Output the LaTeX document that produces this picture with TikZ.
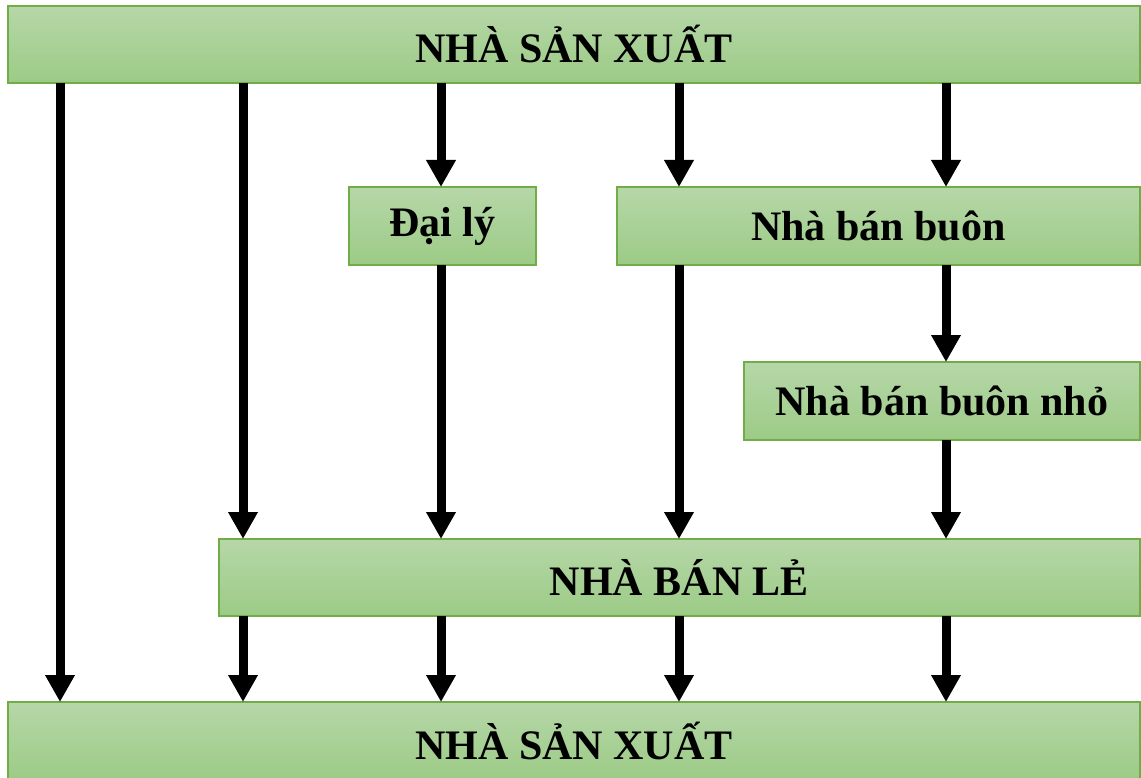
\documentclass[tikz,border=0pt]{standalone}
\usepackage{fontspec}
\setmainfont{Liberation Serif}
\usetikzlibrary{arrows.meta}
\definecolor{boxtop}{HTML}{B6D7A8}
\definecolor{boxbot}{HTML}{9CCB86}
\definecolor{boxline}{HTML}{70AD47}
\begin{document}
\begin{tikzpicture}[x=1pt,y=-1pt,
  box/.style={rectangle, draw=boxline, line width=1.2pt, top color=boxtop, bottom color=boxbot,
    inner sep=0pt, outer sep=0pt, font=\fontsize{42}{50}\selectfont\bfseries, text=black},
  flow/.style={line width=9pt, -{Triangle[length=27pt,width=28pt]}}]
  \useasboundingbox (0,0) rectangle (1141,778);
  \begin{scope}
    \clip (0,0) rectangle (1141,778);
    % boxes
    \node[box, minimum width=1132pt, minimum height=77pt] (top) at (574,44.5) {NHÀ SẢN XUẤT};
    \node[box, minimum width=187pt, minimum height=78pt] (agent) at (442.5,226) {Đại lý};
    \node[box, minimum width=523pt, minimum height=78pt] (whole) at (878.5,226) {Nhà bán buôn};
    \node[box, minimum width=396pt, minimum height=78pt] (small) at (942,401) {Nhà bán buôn nhỏ};
    \node[box, minimum width=921pt, minimum height=77pt] (retail) at (679.5,577.5) {NHÀ BÁN LẺ};
    \node[box, minimum width=1132pt, minimum height=78pt] (bottom) at (574,741) {NHÀ SẢN XUẤT};
  \end{scope}
  % arrow columns
  \coordinate (c1) at (60,0);
  \coordinate (c2) at (243,0);
  \coordinate (c3) at (441,0);
  \coordinate (c4) at (679,0);
  \coordinate (c5) at (946,0);
  % from the producer
  \draw[flow] (top.south -| c1) -- (bottom.north -| c1);
  \draw[flow] (top.south -| c2) -- (retail.north -| c2);
  \draw[flow] (top.south -| c3) -- (agent.north -| c3);
  \draw[flow] (top.south -| c4) -- (whole.north -| c4);
  \draw[flow] (top.south -| c5) -- (whole.north -| c5);
  % intermediaries
  \draw[flow] (agent.south -| c3) -- (retail.north -| c3);
  \draw[flow] (whole.south -| c4) -- (retail.north -| c4);
  \draw[flow] (whole.south -| c5) -- (small.north -| c5);
  \draw[flow] (small.south -| c5) -- (retail.north -| c5);
  % retail to the bottom row
  \draw[flow] (retail.south -| c2) -- (bottom.north -| c2);
  \draw[flow] (retail.south -| c3) -- (bottom.north -| c3);
  \draw[flow] (retail.south -| c4) -- (bottom.north -| c4);
  \draw[flow] (retail.south -| c5) -- (bottom.north -| c5);
\end{tikzpicture}
\end{document}
